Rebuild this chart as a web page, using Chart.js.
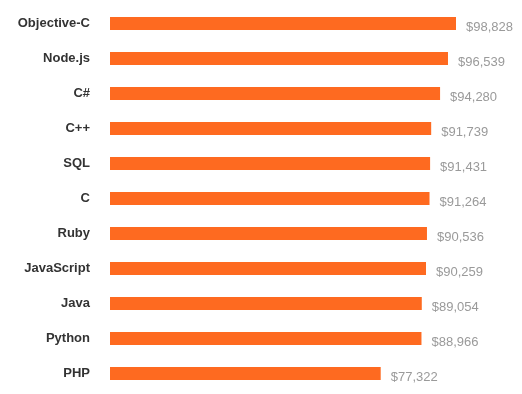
<!DOCTYPE html>
<html>
<head>
<meta charset="utf-8">
<script src="https://cdn.jsdelivr.net/npm/chart.js@4/dist/chart.umd.min.js"></script>
<style>
html,body{margin:0;padding:0;background:#fff;overflow:hidden;}
canvas{display:block;}
</style>
</head>
<body>
<canvas id="c" width="522" height="394" style="width:522px;height:394px"></canvas>
<script>
const categories = ["Objective-C","Node.js","C#","C++","SQL","C","Ruby","JavaScript","Java","Python","PHP"];
const salaries = [98828,96539,94280,91739,91431,91264,90536,90259,89054,88966,77322];

const valueLabels = {
  id: 'valueLabels',
  afterDatasetsDraw(chart) {
    const ctx = chart.ctx;
    const meta = chart.getDatasetMeta(0);
    ctx.save();
    ctx.font = '13px "Liberation Sans", Arial, sans-serif';
    ctx.fillStyle = '#9a9a9a';
    ctx.textAlign = 'left';
    ctx.textBaseline = 'middle';
    meta.data.forEach((bar, i) => {
      const v = chart.data.datasets[0].data[i];
      ctx.fillText('$' + v.toLocaleString('en-US'), bar.x + 10, bar.y + 4);
    });
    ctx.restore();
  }
};

new Chart(document.getElementById('c'), {
  type: 'bar',
  data: {
    labels: categories,
    datasets: [{
      data: salaries,
      backgroundColor: '#fe6a20',
      borderWidth: 0,
      barPercentage: 0.74,
      categoryPercentage: 0.5
    }]
  },
  options: {
    indexAxis: 'y',
    responsive: false,
    animation: false,
    layout: { padding: { top: 6, bottom: 3, left: 0, right: 0 } },
    plugins: { legend: { display: false }, tooltip: { enabled: false } },
    scales: {
      x: { display: false, min: 0, max: 117680 },
      y: {
        grid: { display: false, drawTicks: false },
        border: { display: false },
        ticks: {
          padding: 20,
          color: '#333',
          font: { family: '"Liberation Sans", Arial, sans-serif', size: 13, weight: 'bold' }
        },
        afterFit(scale) {
          scale.width = 110;
          scale.paddingTop = 0;
          scale.paddingBottom = 0;
        }
      }
    }
  },
  plugins: [valueLabels]
});
</script>
</body>
</html>
